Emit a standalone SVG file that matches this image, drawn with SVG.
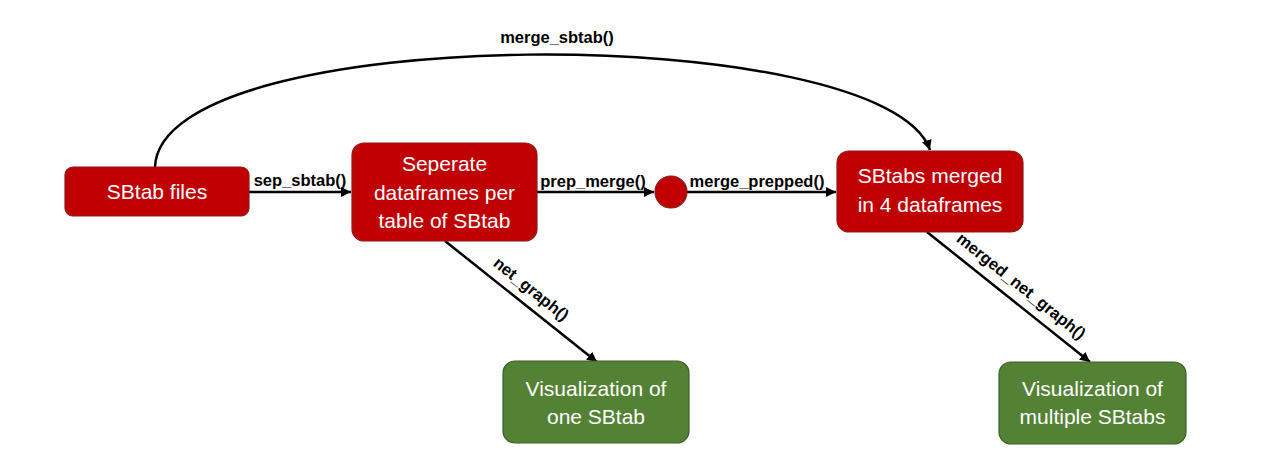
<svg xmlns="http://www.w3.org/2000/svg" width="1280" height="471" viewBox="0 0 1280 471">
<defs>
<style>
.red{fill:#C00000;stroke:#8E1B1B;stroke-width:1.2}
.green{fill:#548235;stroke:#3D5F27;stroke-width:1.2}
.nt{font-family:"Liberation Sans",Arial,sans-serif;font-size:21px;fill:#FFFFFF;text-anchor:middle}
.lb{font-family:"Liberation Sans",Arial,sans-serif;font-size:16.5px;font-weight:bold;fill:#000000}
.cn{fill:none;stroke:#000000;stroke-width:2.5}
</style>
<marker id="ah" viewBox="0 0 10 10" refX="10" refY="5" markerWidth="4" markerHeight="4" markerUnits="strokeWidth" orient="auto">
<path d="M0,0 L10,5 L0,10 z" fill="#000000"/>
</marker>
</defs>
<rect width="1280" height="471" fill="#FFFFFF"/>
<g id="connectors">
<path class="cn" d="M155,167 C160,20 885,20 930,150" marker-end="url(#ah)"/>
<line class="cn" x1="249" y1="192" x2="351" y2="192" marker-end="url(#ah)"/>
<line class="cn" x1="537" y1="192" x2="654" y2="192" marker-end="url(#ah)"/>
<line class="cn" x1="687" y1="192" x2="836" y2="192" marker-end="url(#ah)"/>
<line class="cn" x1="445" y1="241" x2="597" y2="362" marker-end="url(#ah)"/>
<line class="cn" x1="927" y1="232" x2="1090" y2="362" marker-end="url(#ah)"/>
<text class="lb" x="557" y="43" text-anchor="middle">merge_sbtab()</text>
<text class="lb" x="300" y="186" text-anchor="middle">sep_sbtab()</text>
<text class="lb" x="593" y="187" text-anchor="middle">prep_merge()</text>
<text class="lb" x="757" y="187" text-anchor="middle">merge_prepped()</text>
<text class="lb" transform="translate(524,298) rotate(38.5)" y="-6" text-anchor="middle">net_graph()</text>
<text class="lb" transform="translate(1014,295) rotate(38.6)" y="-6" text-anchor="middle">merged_net_graph()</text>
</g>
<g id="sbtab-files">
<rect class="red" x="65" y="167" width="184" height="49" rx="8"/>
<text class="nt" x="157" y="199">SBtab files</text>
</g>
<g id="seperate">
<rect class="red" x="352" y="143" width="185" height="98" rx="12"/>
<text class="nt" x="444.5" y="171">Seperate</text>
<text class="nt" x="444.5" y="200">dataframes per</text>
<text class="nt" x="444.5" y="228">table of SBtab</text>
</g>
<g id="junction">
<circle class="red" cx="671" cy="192" r="16"/>
</g>
<g id="merged">
<rect class="red" x="837" y="151" width="186" height="81" rx="12"/>
<text class="nt" x="930" y="183">SBtabs merged</text>
<text class="nt" x="930" y="212">in 4 dataframes</text>
</g>
<g id="vis-one">
<rect class="green" x="503" y="361" width="186" height="82" rx="12"/>
<text class="nt" x="596" y="396">Visualization of</text>
<text class="nt" x="596" y="424">one SBtab</text>
</g>
<g id="vis-multiple">
<rect class="green" x="999" y="362" width="187" height="82" rx="12"/>
<text class="nt" x="1092.5" y="396">Visualization of</text>
<text class="nt" x="1092.5" y="424">multiple SBtabs</text>
</g>
</svg>
